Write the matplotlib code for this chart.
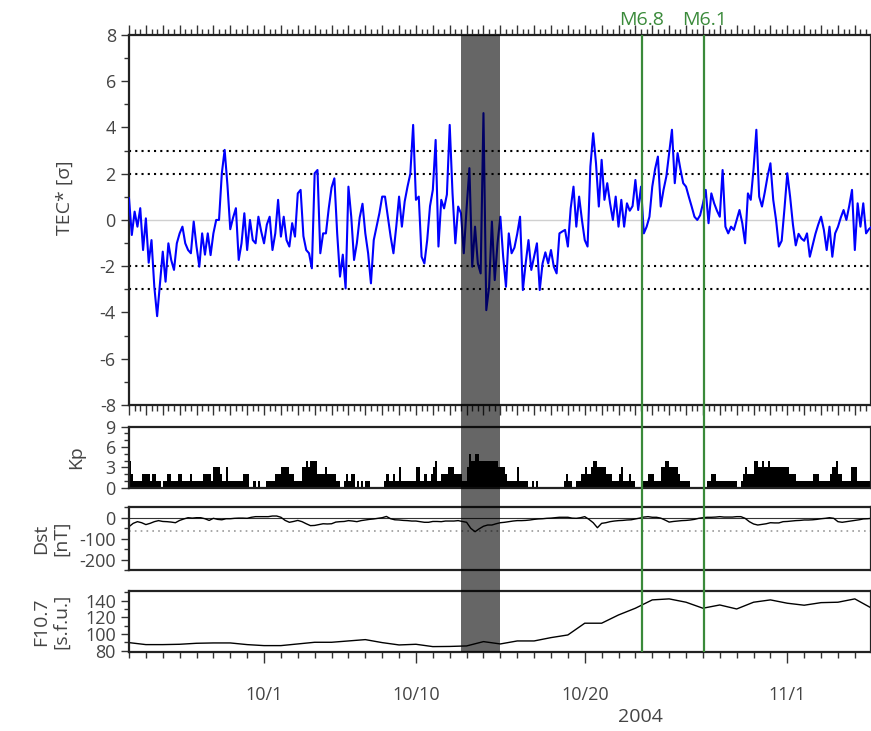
import matplotlib.pyplot as plt
import matplotlib.dates as mdates
import matplotlib.ticker as mticker
import pandas as pd

plt.rcParams['font.family'] = ['Open Sans', 'DejaVu Sans']
plt.rcParams['axes.unicode_minus'] = False

START = '2004-09-23'
END = '2004-11-05 23:00'

# TEC anomaly, 4-hourly from 9/23 00UT
tec_sigma = [
    0.94, -0.65, 0.36, -0.29, 0.51, -1.30,
    0.07, -1.85, -0.87, -2.89, -4.16, -2.74,
    -1.37, -2.67, -1.01, -1.73, -2.16, -1.01,
    -0.58, -0.29, -1.01, -1.30, -1.44, -0.07,
    -1.15, -2.02, -0.58, -1.50, -0.58, -1.52,
    -0.58, 0.00, 0.00, 2.02, 3.03, 1.50,
    -0.40, 0.10, 0.51, -1.73, -1.01, 0.29,
    -1.30, 0.00, -0.87, -1.01, 0.14, -0.50,
    -1.01, -0.20, 0.14, -1.30, -0.58, 0.87,
    -0.72, 0.14, -0.87, -1.15, -0.14, -0.72,
    1.15, 1.30, -0.70, -1.30, -1.44, -2.09,
    2.02, 2.16, -1.44, -0.58, -0.58, 0.50,
    1.40, 1.80, -0.58, -2.45, -1.50, -2.96,
    1.44, 0.14, -1.73, -1.00, 0.10, 0.70,
    -0.58, -1.44, -2.74, -0.87, -0.29, 0.29,
    1.01, 1.01, 0.14, -0.72, -1.44, -0.29,
    1.01, -0.29, 0.80, 1.44, 2.00, 4.11,
    0.87, 1.01, -1.59, -1.88, -0.87, 0.60,
    1.30, 3.46, -1.15, 0.87, 0.50, 1.10,
    4.11, 1.15, -1.01, 0.58, 0.29, -1.44,
    0.50, 2.24, -2.02, -0.29, -1.88, -2.31,
    4.62, -3.90, -2.89, -0.07, -2.60, -1.00,
    0.14, -1.59, -2.89, -0.58, -1.44, -1.20,
    -0.60, 0.14, -3.03, -1.88, -0.87, -2.16,
    -1.59, -1.01, -3.03, -1.88, -1.40, -1.88,
    -1.30, -2.02, -2.31, -0.58, -0.50, -0.43,
    -1.15, 0.50, 1.44, -0.29, 1.01, 0.00,
    -0.87, -1.15, 2.31, 3.75, 2.45, 0.58,
    2.60, 0.87, 1.59, 0.72, 0.00, 1.01,
    -0.29, 0.87, -0.29, 0.72, 0.40, 0.60,
    1.73, 0.43, 1.44, -0.58, -0.29, 0.14,
    1.44, 2.20, 2.74, 0.58, 1.30, 1.88,
    2.89, 3.90, 1.59, 2.89, 2.20, 1.59,
    1.44, 1.00, 0.58, 0.14, 0.00, 0.20,
    0.70, 1.30, -0.14, 1.15, 0.72, 0.40,
    0.14, 2.16, -0.29, -0.58, -0.29, -0.43,
    0.00, 0.43, -0.14, -1.01, 1.15, 0.87,
    2.20, 3.90, 1.01, 0.58, 1.20, 1.90,
    2.45, 0.87, 0.00, -1.15, -0.90, 0.50,
    2.02, 1.00, -0.20, -1.10, -0.60, -0.80,
    -0.90, -0.58, -1.59, -1.10, -0.60, -0.20,
    0.14, -0.43, -1.30, -0.29, -1.59, -0.58,
    -0.30, 0.10, 0.43, 0.00, 0.60, 1.30,
    -1.30, 0.72, -0.29, 0.72, -0.58, -0.40,
    -0.29,
]

# Kp, 3-hourly
kp_index = [
    4, 2, 1, 1, 1, 1, 2, 2,  2, 2, 1, 2, 2, 1, 1, 0,
    1, 1, 2, 2, 1, 1, 1, 2,  2, 1, 1, 1, 1, 2, 1, 1,
    1, 1, 1, 2, 2, 2, 2, 1,  3, 3, 3, 2, 1, 1, 3, 1,
    1, 1, 1, 1, 1, 1, 2, 2,  2, 0, 0, 1, 0, 1, 0, 0,
    0, 1, 1, 1, 1, 2, 2, 2,  3, 3, 3, 3, 2, 2, 1, 1,
    1, 1, 3, 3, 4, 3, 4, 4,  4, 2, 2, 2, 2, 3, 2, 2,
    2, 2, 1, 1, 0, 0, 1, 2,  1, 2, 2, 0, 1, 0, 1, 0,
    1, 1, 0, 0, 0, 0, 0, 0,  0, 1, 2, 1, 1, 2, 1, 1,
    3, 1, 1, 1, 1, 1, 1, 1,  3, 3, 1, 1, 2, 1, 1, 2,
    3, 4, 1, 1, 2, 2, 2, 3,  3, 3, 2, 2, 2, 2, 1, 1,
    3, 5, 4, 4, 5, 5, 4, 4,  4, 4, 4, 4, 4, 4, 4, 3,
    3, 3, 2, 1, 1, 1, 1, 1,  3, 1, 1, 1, 1, 0, 0, 1,
    0, 1, 0, 0, 0, 0, 0, 0,  0, 0, 0, 0, 0, 0, 1, 2,
    1, 1, 0, 0, 1, 1, 2, 2,  3, 2, 2, 3, 4, 4, 3, 3,
    3, 3, 2, 2, 2, 1, 1, 1,  2, 3, 1, 1, 1, 2, 1, 1,
    0, 0, 0, 1, 1, 1, 2, 2,  2, 1, 1, 1, 3, 3, 4, 4,
    3, 3, 3, 3, 2, 1, 1, 1,  1, 1, 0, 0, 0, 0, 0, 0,
    0, 0, 1, 1, 2, 2, 1, 1,  1, 1, 1, 1, 1, 1, 1, 1,
    0, 0, 1, 2, 3, 2, 2, 2,  4, 4, 3, 3, 4, 3, 3, 4,
    3, 3, 3, 3, 3, 3, 3, 3,  3, 2, 2, 2, 1, 1, 1, 1,
    1, 1, 1, 1, 2, 2, 2, 1,  1, 1, 1, 1, 2, 3, 3, 4,
    2, 2, 1, 1, 1, 1, 3, 3,  3, 1, 1, 1, 1, 1, 1, 1,
]

# Dst [nT], 6-hourly
dst_nt = [
    -43, -27, -19, -24, -33, -27, -19, -14, -18, -19, -21, -24,
    -13, -6, 0, -2, 0, 0, -5, -13, -3, -8, -10, -5,
    -5, -3, -2, -2, -3, 2, 5, 5, 5, 5, 8, 8,
    2, -13, -22, -18, -13, -19, -29, -38, -37, -33, -29, -30,
    -29, -21, -19, -18, -14, -16, -19, -14, -11, -8, -6, -3,
    0, 6, -5, -10, -11, -13, -14, -16, -16, -19, -22, -22,
    -18, -18, -19, -16, -16, -16, -14, -18, -22, -51, -67, -53,
    -41, -35, -35, -29, -24, -22, -19, -16, -14, -14, -13, -11,
    -8, -6, -5, -3, -2, 0, 2, 2, 2, -2, -3, 0,
    5, -8, -24, -48, -27, -24, -19, -16, -14, -13, -11, -10,
    -6, -2, 3, 5, 2, 2, -2, -11, -21, -18, -16, -14,
    -13, -11, -8, -3, 0, 2, 2, 3, 5, 3, 3, 3,
    5, 5, -3, -19, -30, -35, -32, -29, -24, -25, -25, -19,
    -18, -16, -14, -13, -11, -11, -10, -8, -5, -3, 0, -3,
    -19, -22, -19, -16, -13, -10, -6, -5, -3,
]
DST_THRESHOLD = -65

# F10.7 [s.f.u.], daily
f107_sfu = [
    89.6, 87.2, 87.2, 87.6, 88.8, 89.2, 89.2, 87.2, 86.0, 86.0,
    88.0, 90.0, 90.0, 91.6, 93.2, 89.6, 86.8, 87.6, 84.8, 85.0,
    85.6, 90.8, 88.0, 91.6, 91.6, 95.6, 98.8, 112.9, 112.9, 122.8,
    130.9, 140.9, 142.1, 138.1, 130.9, 134.8, 130.0, 138.1, 140.9, 136.9,
    134.5, 137.6, 138.1, 142.1, 130.9,
]

band = ('2004-10-12 16:00', '2004-10-15 00:00')
quake_times = ['2004-10-23 08:56', '2004-10-27 01:40']
quake_labels = ['M6.8', 'M6.1']
date_ticks = ['2004-10-01', '2004-10-10', '2004-10-20', '2004-11-01']
date_labels = ['10/1', '10/10', '10/20', '11/1']

TXT = '#444444'
FS = 13

tec_time = pd.date_range(START, periods=len(tec_sigma), freq='4h')
kp_time = pd.date_range(START, periods=len(kp_index), freq='3h')
dst_time = pd.date_range(START, periods=len(dst_nt), freq='6h')
f107_time = pd.date_range(START, periods=len(f107_sfu), freq='1D')
x0, x1 = pd.Timestamp(START), pd.Timestamp(END)

fig = plt.figure(figsize=(8.71, 7.31), dpi=100)
left, width = 0.1481, 0.8519
ax_tec = fig.add_axes([left, 0.4460, width, 0.5062])
ax_kp = fig.add_axes([left, 0.3328, width, 0.0835])
ax_dst = fig.add_axes([left, 0.2203, width, 0.0858])
ax_f = fig.add_axes([left, 0.1077, width, 0.0843])

for ax in (ax_tec, ax_kp, ax_dst, ax_f):
    ax.set_xlim(x0, x1)
    for sp in ax.spines.values():
        sp.set_linewidth(1.6)
        sp.set_color('#222222')
    ax.tick_params(axis='y', which='both', direction='out', colors='#333333',
                   labelcolor=TXT, labelsize=FS, width=1.0)
    ax.tick_params(axis='y', which='major', length=6)
    ax.tick_params(axis='y', which='minor', length=3.5)

# TEC
ax_tec.axhline(0, color='#d0d0d0', lw=1.0, zorder=1)
for lev in (3, 2, -2, -3):
    ax_tec.axhline(lev, color='black', lw=1.5, ls=(0, (1, 2)), zorder=2)
ax_tec.plot(tec_time, tec_sigma, color='blue', lw=1.5, zorder=3)
ax_tec.set_ylim(-8, 8)
ax_tec.yaxis.set_major_locator(mticker.MultipleLocator(2))
ax_tec.yaxis.set_minor_locator(mticker.MultipleLocator(1))
ax_tec.xaxis.set_major_locator(mdates.DayLocator())
ax_tec.xaxis.set_minor_locator(mdates.HourLocator(byhour=[8, 16]))
ax_tec.tick_params(axis='x', which='both', direction='out', top=True, bottom=True,
                   labelbottom=False, colors='#333333', width=1.0)
ax_tec.tick_params(axis='x', which='major', length=7)
ax_tec.tick_params(axis='x', which='minor', length=4)
ax_tec.text(-0.087, 0.56, 'TEC* [σ]', transform=ax_tec.transAxes, rotation=90,
            ha='center', va='center', fontsize=FS + 1, color=TXT)

# Kp
ax_kp.bar(kp_time, kp_index, width=0.125, align='edge', color='black', lw=0)
ax_kp.set_ylim(0, 9)
ax_kp.set_yticks([0, 3, 6, 9])
ax_kp.yaxis.set_minor_locator(mticker.MultipleLocator(1))
ax_kp.tick_params(axis='x', which='both', bottom=False, labelbottom=False)
ax_kp.text(-0.071, 0.5, 'Kp', transform=ax_kp.transAxes, rotation=90,
           ha='center', va='center', fontsize=FS + 1, color=TXT)

# Dst
ax_dst.axhline(0, color='#333333', lw=0.8)
ax_dst.axhline(DST_THRESHOLD, color='#999999', lw=1.2, ls=(0, (1, 2.5)))
ax_dst.plot(dst_time, dst_nt, color='black', lw=1.0)
ax_dst.set_ylim(-250, 50)
ax_dst.set_yticks([0, -100, -200])
ax_dst.yaxis.set_minor_locator(mticker.MultipleLocator(50))
ax_dst.tick_params(axis='x', which='both', bottom=False, labelbottom=False)
ax_dst.text(-0.105, 0.5, 'Dst\n[nT]', transform=ax_dst.transAxes, rotation=90,
            ha='center', va='center', fontsize=FS + 1, color=TXT, linespacing=1.1)

# F10.7
ax_f.plot(f107_time, f107_sfu, color='black', lw=1.0)
ax_f.set_ylim(78, 152)
ax_f.set_yticks([80, 100, 120, 140])
ax_f.yaxis.set_minor_locator(mticker.MultipleLocator(10))
ax_f.set_xticks(pd.to_datetime(date_ticks))
ax_f.set_xticklabels(date_labels)
ax_f.xaxis.set_minor_locator(mdates.DayLocator())
ax_f.tick_params(axis='x', which='both', direction='out', colors='#333333',
                 labelcolor=TXT, labelsize=FS, width=1.0, pad=16)
ax_f.tick_params(axis='x', which='major', length=8)
ax_f.tick_params(axis='x', which='minor', length=4.5)
ax_f.text(-0.105, 0.5, 'F10.7\n[s.f.u.]', transform=ax_f.transAxes, rotation=90,
          ha='center', va='center', fontsize=FS + 1, color=TXT, linespacing=1.1)
fig.text(640 / 871, 1 - 717 / 731, '2004', ha='center', va='center',
         fontsize=FS + 1, color=TXT)

# overlay: storm band and earthquake markers through all panels
ov = fig.add_axes([left, 0.1077, width, 0.9521 - 0.1077], zorder=10)
ov.set_xlim(x0, x1)
ov.set_ylim(0, 1)
ov.axis('off')
ov.axvspan(pd.Timestamp(band[0]), pd.Timestamp(band[1]), color='black',
           alpha=0.6, lw=0)
for t, lab in zip(quake_times, quake_labels):
    t = pd.Timestamp(t)
    ov.axvline(t, color='#3a8a3a', lw=1.6)
    ov.annotate(lab, (t, 1), xytext=(0, 7), textcoords='offset points',
                ha='center', va='baseline', fontsize=FS + 1, color='#3a8a3a',
                annotation_clip=False)

fig.savefig('out.png', dpi=100)
